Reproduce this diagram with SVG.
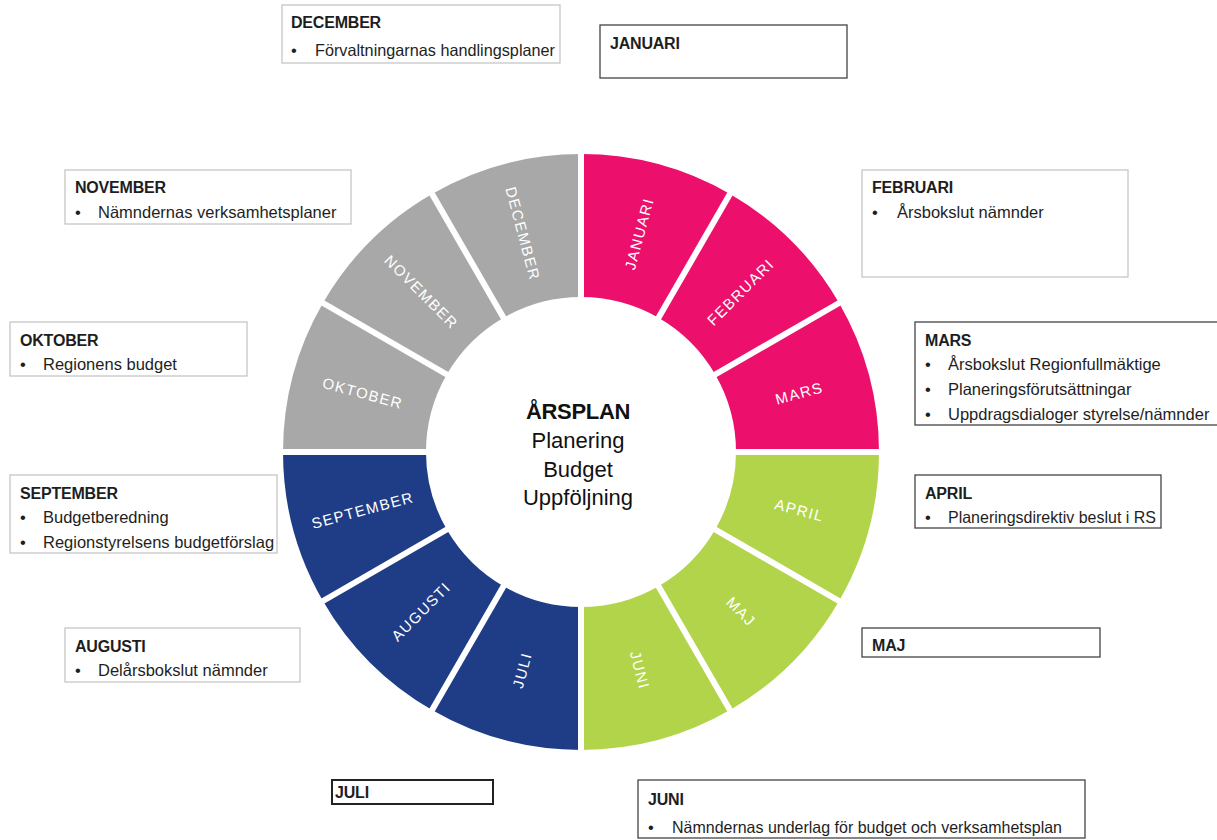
<svg xmlns="http://www.w3.org/2000/svg" width="1217" height="840" viewBox="0 0 1217 840">
<style>
.seg-p{fill:#EC0F6B}.seg-g{fill:#B2D44B}.seg-n{fill:#1F3D87}.seg-s{fill:#A7A8A7}
.lbl{font-family:"Liberation Sans",Arial,sans-serif;font-size:15px;fill:#fff;text-anchor:middle;letter-spacing:1.4px}
.ctr{font-family:"Liberation Sans",Arial,sans-serif;font-size:22px;fill:#111;text-anchor:middle}
.box-l{fill:#fff;stroke:#c6c6c6;stroke-width:1.3}
.box-d{fill:#fff;stroke:#444;stroke-width:1.3}
.ttl{font-family:"Liberation Sans",Arial,sans-serif;font-size:16px;font-weight:bold;fill:#1e1e1e;letter-spacing:-0.2px}
.txt{font-family:"Liberation Sans",Arial,sans-serif;font-size:16.5px;fill:#1e1e1e}
.gap{stroke:#fff;stroke-width:6}
</style>
<rect width="1217" height="840" fill="#fff"/>
<g id="ring">
<g id="seg-jan"><path class="seg-p" d="M581,154 A298,298 0 0 1 730,193.93 L658.5,317.77 A155,155 0 0 0 581,297 Z"/><text class="lbl" transform="translate(639.5,233.7) rotate(-75)" dy="5">JANUARI</text></g>
<g id="seg-feb"><path class="seg-p" d="M730,193.93 A298,298 0 0 1 839.07,303 L715.23,374.5 A155,155 0 0 0 658.5,317.77 Z"/><text class="lbl" transform="translate(740.8,292.2) rotate(-45)" dy="5">FEBRUARI</text></g>
<g id="seg-mar"><path class="seg-p" d="M839.07,303 A298,298 0 0 1 879,452 L736,452 A155,155 0 0 0 715.23,374.5 Z"/><text class="lbl" transform="translate(799.3,393.5) rotate(-15)" dy="5">MARS</text></g>
<g id="seg-apr"><path class="seg-g" d="M879,452 A298,298 0 0 1 839.07,601 L715.23,529.5 A155,155 0 0 0 736,452 Z"/><text class="lbl" transform="translate(799.3,510.5) rotate(15)" dy="5">APRIL</text></g>
<g id="seg-maj"><path class="seg-g" d="M839.07,601 A298,298 0 0 1 730,710.07 L658.5,586.23 A155,155 0 0 0 715.23,529.5 Z"/><text class="lbl" transform="translate(740.8,611.8) rotate(45)" dy="5">MAJ</text></g>
<g id="seg-jun"><path class="seg-g" d="M730,710.07 A298,298 0 0 1 581,750 L581,607 A155,155 0 0 0 658.5,586.23 Z"/><text class="lbl" transform="translate(639.5,670.3) rotate(75)" dy="5">JUNI</text></g>
<g id="seg-jul"><path class="seg-n" d="M581,750 A298,298 0 0 1 432,710.07 L503.5,586.23 A155,155 0 0 0 581,607 Z"/><text class="lbl" transform="translate(522.5,670.3) rotate(-75)" dy="5">JULI</text></g>
<g id="seg-aug"><path class="seg-n" d="M432,710.07 A298,298 0 0 1 322.93,601 L446.77,529.5 A155,155 0 0 0 503.5,586.23 Z"/><text class="lbl" transform="translate(421.2,611.8) rotate(-45)" dy="5">AUGUSTI</text></g>
<g id="seg-sep"><path class="seg-n" d="M322.93,601 A298,298 0 0 1 283,452 L426,452 A155,155 0 0 0 446.77,529.5 Z"/><text class="lbl" transform="translate(362.7,510.5) rotate(-15)" dy="5">SEPTEMBER</text></g>
<g id="seg-okt"><path class="seg-s" d="M283,452 A298,298 0 0 1 322.93,303 L446.77,374.5 A155,155 0 0 0 426,452 Z"/><text class="lbl" transform="translate(362.7,393.5) rotate(15)" dy="5">OKTOBER</text></g>
<g id="seg-nov"><path class="seg-s" d="M322.93,303 A298,298 0 0 1 432,193.93 L503.5,317.77 A155,155 0 0 0 446.77,374.5 Z"/><text class="lbl" transform="translate(421.2,292.2) rotate(45)" dy="5">NOVEMBER</text></g>
<g id="seg-dec"><path class="seg-s" d="M432,193.93 A298,298 0 0 1 581,154 L581,297 A155,155 0 0 0 503.5,317.77 Z"/><text class="lbl" transform="translate(522.5,233.7) rotate(75)" dy="5">DECEMBER</text></g>
</g>
<g id="gaps">
<line class="gap" x1="581" y1="147" x2="581" y2="310"/><line class="gap" x1="581" y1="594" x2="581" y2="757"/>
<line class="gap" x1="733.5" y1="187.86" x2="651" y2="330.8"/><line class="gap" x1="428.5" y1="716.14" x2="511" y2="573.2"/>
<line class="gap" x1="845.14" y1="299.5" x2="702.2" y2="382"/><line class="gap" x1="316.86" y1="604.5" x2="459.8" y2="522"/>
<line class="gap" x1="886" y1="452" x2="721" y2="452"/><line class="gap" x1="276" y1="452" x2="441" y2="452"/>
<line class="gap" x1="845.14" y1="604.5" x2="702.2" y2="522"/><line class="gap" x1="316.86" y1="299.5" x2="459.8" y2="382"/>
<line class="gap" x1="733.5" y1="716.14" x2="651" y2="573.2"/><line class="gap" x1="428.5" y1="187.86" x2="511" y2="330.8"/>
</g>
<g id="center">
<text class="ctr" x="578" y="419" font-weight="bold" font-size="20" letter-spacing="-0.3">ÅRSPLAN</text>
<text class="ctr" x="578" y="448">Planering</text>
<text class="ctr" x="578" y="477">Budget</text>
<text class="ctr" x="578" y="505">Uppföljning</text>
</g>
<g id="box-dec"><rect class="box-l" x="282" y="5" width="278" height="58"/><text class="ttl" x="291" y="28">DECEMBER</text><text class="txt" x="291" y="56">•</text><text class="txt" x="315" y="56" textLength="240" lengthAdjust="spacingAndGlyphs">Förvaltningarnas handlingsplaner</text></g>
<g id="box-jan"><rect class="box-d" x="600" y="25" width="247" height="53"/><text class="ttl" x="610" y="49">JANUARI</text></g>
<g id="box-feb"><rect class="box-l" x="862" y="170" width="266" height="107"/><text class="ttl" x="872" y="193">FEBRUARI</text><text class="txt" x="872" y="218">•</text><text class="txt" x="897" y="218">Årsbokslut nämnder</text></g>
<g id="box-mar"><rect class="box-d" x="915" y="322" width="305" height="103"/><text class="ttl" x="925" y="346">MARS</text><text class="txt" x="925" y="370">•</text><text class="txt" x="948" y="370">Årsbokslut Regionfullmäktige</text><text class="txt" x="925" y="395">•</text><text class="txt" x="948" y="395">Planeringsförutsättningar</text><text class="txt" x="925" y="420">•</text><text class="txt" x="948" y="420">Uppdragsdialoger styrelse/nämnder</text></g>
<g id="box-apr"><rect class="box-d" x="915" y="475" width="246" height="53"/><text class="ttl" x="925" y="499">APRIL</text><text class="txt" x="925" y="523">•</text><text class="txt" x="948" y="523" textLength="208" lengthAdjust="spacingAndGlyphs">Planeringsdirektiv beslut i RS</text></g>
<g id="box-maj"><rect class="box-d" x="862" y="628" width="238" height="29"/><text class="ttl" x="872" y="651">MAJ</text></g>
<g id="box-jun"><rect class="box-d" x="638" y="780" width="447" height="58"/><text class="ttl" x="648" y="805">JUNI</text><text class="txt" x="648" y="833">•</text><text class="txt" x="672" y="833" textLength="390" lengthAdjust="spacingAndGlyphs">Nämndernas underlag för budget och verksamhetsplan</text></g>
<g id="box-jul"><rect x="332" y="780" width="161" height="24" fill="#fff" stroke="#222" stroke-width="2"/><text class="ttl" x="335" y="798">JULI</text></g>
<g id="box-aug"><rect class="box-l" x="65" y="628" width="235" height="54"/><text class="ttl" x="75" y="652">AUGUSTI</text><text class="txt" x="75" y="676">•</text><text class="txt" x="98" y="676">Delårsbokslut nämnder</text></g>
<g id="box-sep"><rect class="box-l" x="10" y="475" width="267" height="78"/><text class="ttl" x="20" y="499">SEPTEMBER</text><text class="txt" x="20" y="523">•</text><text class="txt" x="43" y="523">Budgetberedning</text><text class="txt" x="20" y="548">•</text><text class="txt" x="43" y="548">Regionstyrelsens budgetförslag</text></g>
<g id="box-okt"><rect class="box-l" x="10" y="322" width="237" height="54"/><text class="ttl" x="20" y="346">OKTOBER</text><text class="txt" x="20" y="370">•</text><text class="txt" x="43" y="370">Regionens budget</text></g>
<g id="box-nov"><rect class="box-l" x="65" y="170" width="286" height="54"/><text class="ttl" x="75" y="193">NOVEMBER</text><text class="txt" x="75" y="218">•</text><text class="txt" x="98" y="218">Nämndernas verksamhetsplaner</text></g>
</svg>
